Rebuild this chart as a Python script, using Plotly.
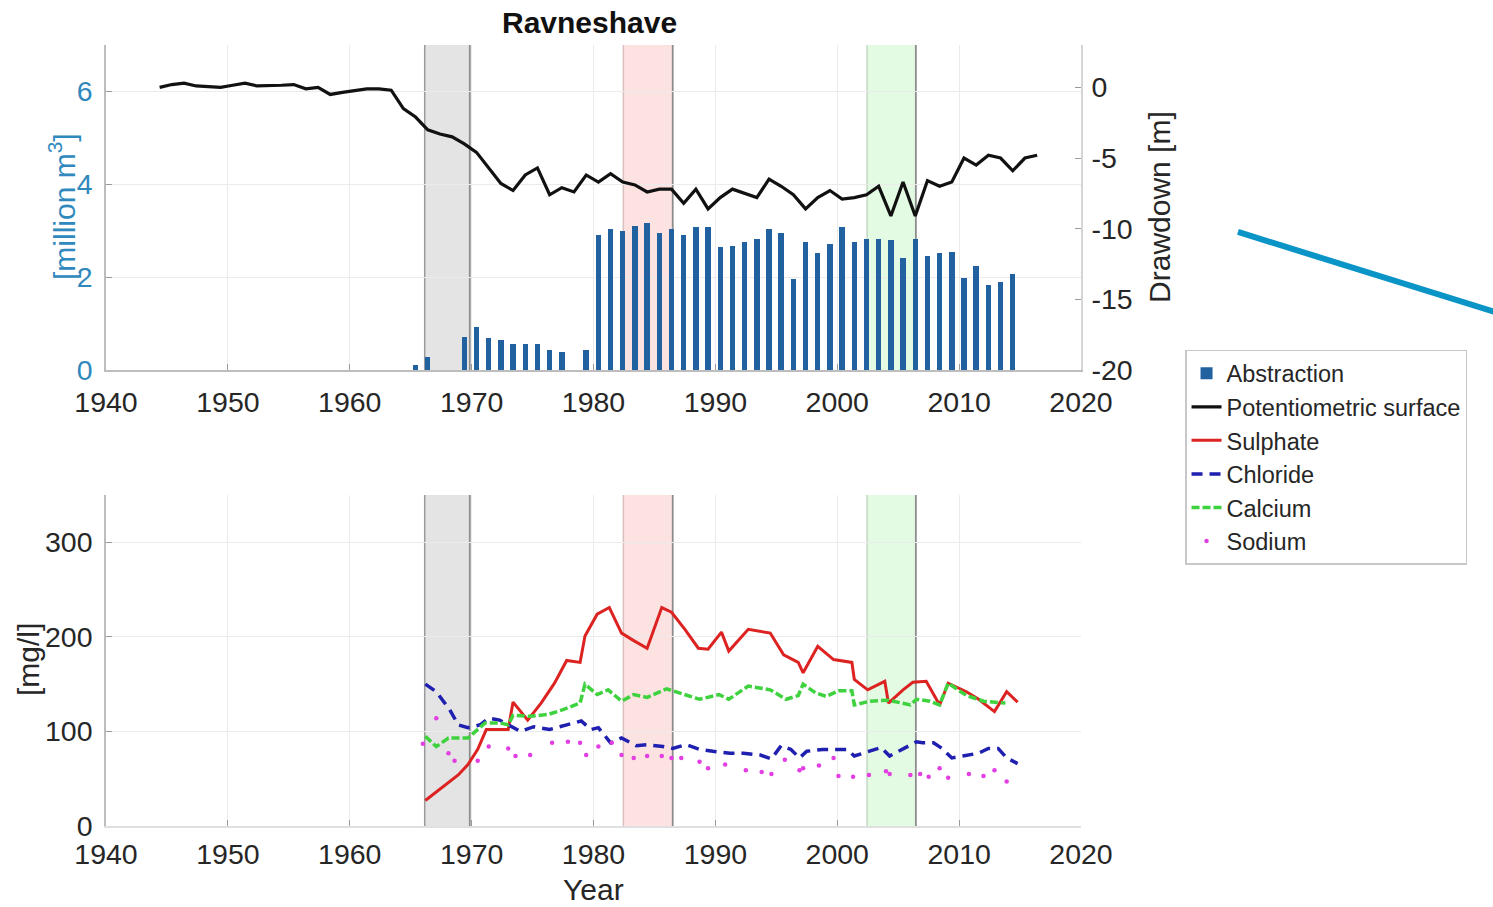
import plotly.graph_objects as go

# ---------------- data ----------------
pot_years = list(range(1944, 2017))
pot_drawdown = [0.0, 0.2, 0.3, 0.1, 0.05, 0.0, 0.15, 0.3, 0.1, 0.1, 0.15, 0.2, -0.1, 0.0,
                -0.5, -0.35, -0.25, -0.1, -0.1, -0.2, -1.5, -2.1, -3.0, -3.3, -3.5, -4.0,
                -4.6, -5.7, -6.8, -7.3, -6.2, -5.7, -7.6, -7.1, -7.4, -6.2, -6.7, -6.1,
                -6.7, -6.9, -7.4, -7.2, -7.2, -8.2, -7.2, -8.6, -7.8, -7.2, -7.5, -7.8,
                -6.5, -7.0, -7.6, -8.6, -7.8, -7.3, -7.9, -7.8, -7.6, -7.0, -9.1, -6.7,
                -9.1, -6.6, -7.0, -6.7, -5.0, -5.5, -4.8, -5.0, -5.9, -5.0, -4.8]

abs_years = [1965, 1966, 1969, 1970, 1971, 1972, 1973, 1974, 1975, 1976, 1977, 1979,
             1980, 1981, 1982, 1983, 1984, 1985, 1986, 1987, 1988, 1989, 1990, 1991,
             1992, 1993, 1994, 1995, 1996, 1997, 1998, 1999, 2000, 2001, 2002, 2003,
             2004, 2005, 2006, 2007, 2008, 2009, 2010, 2011, 2012, 2013, 2014]
abs_values = [0.10, 0.29, 0.71, 0.92, 0.69, 0.64, 0.57, 0.55, 0.57, 0.42, 0.38, 0.42,
              2.90, 3.03, 3.00, 3.10, 3.16, 2.94, 3.03, 2.90, 3.08, 3.08, 2.64, 2.67,
              2.76, 2.83, 3.03, 2.94, 1.95, 2.75, 2.53, 2.72, 3.07, 2.76, 2.83, 2.83,
              2.80, 2.42, 2.82, 2.46, 2.51, 2.54, 1.99, 2.24, 1.84, 1.90, 2.06]

so4_t = [1966.2, 1967.1, 1967.9, 1968.9, 1969.7, 1970.5, 1971.2, 1972.2, 1973.0, 1973.4,
         1974.6, 1975.7, 1976.8, 1977.8, 1978.9, 1979.3, 1980.3, 1981.3, 1982.3, 1983.3,
         1984.4, 1985.6, 1986.4, 1987.5, 1988.6, 1989.4, 1990.5, 1991.1, 1992.7, 1994.5,
         1995.6, 1996.8, 1997.2, 1998.4, 1999.7, 2001.2, 2001.4, 2002.5, 2003.9, 2004.2,
         2005.4, 2006.2, 2007.3, 2008.4, 2009.1, 2010.6, 2011.6, 2012.9, 2013.9, 2014.8]
so4_v = [27, 36, 43, 54, 65, 81, 102, 102, 102, 131,
         112, 130, 151, 175, 173, 201, 224, 231, 204, 196,
         188, 231, 226, 208, 188, 187, 205, 185, 208, 204,
         181, 173, 162, 190, 176, 173, 155, 144, 153, 130,
         144, 152, 153, 128, 151, 142, 134, 121, 142, 131]

cl_t = [1966.2, 1967.1, 1968.2, 1968.9, 1969.7, 1970.7, 1971.4, 1972.3, 1973.0, 1974.0,
        1975.1, 1976.4, 1977.8, 1979.0, 1979.8, 1980.4, 1981.4, 1982.3, 1983.5, 1984.4,
        1985.7, 1986.5, 1987.6, 1988.7, 1989.8, 1991.2, 1992.3, 1993.7, 1994.6, 1995.4,
        1996.2, 1996.9, 1997.5, 1998.8, 1999.9, 2000.8, 2001.4, 2002.7, 2003.6, 2004.3,
        2005.4, 2006.5, 2007.0, 2007.9, 2008.6, 2009.4, 2010.3, 2011.6, 2012.4, 2013.2,
        2013.9, 2014.8]
cl_v = [150, 142, 123, 107, 104, 107, 114, 112, 107, 100,
        105, 102, 107, 111, 102, 104, 88, 93, 85, 86,
        84, 82, 86, 81, 79, 77, 77, 75, 71, 85,
        81, 72, 79, 81, 81, 81, 74, 79, 83, 74,
        82, 89, 88, 88, 82, 72, 74, 77, 82, 82,
        72, 66]

ca_t = [1966.2, 1967.1, 1968.1, 1969.7, 1971.1, 1972.3, 1973.0, 1973.4, 1974.8, 1976.3,
        1977.5, 1978.9, 1979.3, 1980.3, 1981.2, 1982.3, 1983.3, 1984.4, 1986.0, 1987.4,
        1988.7, 1990.3, 1991.1, 1992.7, 1994.5, 1995.8, 1996.8, 1997.2, 1998.2, 1999.1,
        2000.1, 2001.2, 2001.4, 2002.7, 2004.2, 2006.0, 2006.5, 2007.6, 2008.4, 2009.1,
        2010.6, 2012.0, 2013.8]
ca_v = [95, 84, 93, 93, 109, 109, 107, 117, 116, 118,
        123, 130, 150, 139, 144, 132, 139, 136, 145, 139,
        134, 139, 134, 148, 144, 134, 138, 150, 141, 137,
        143, 143, 128, 132, 133, 128, 134, 132, 128, 151,
        138, 132, 130]

na_t = [1966.0, 1967.1, 1968.1, 1968.6, 1970.5, 1971.4, 1973.0, 1973.6, 1974.8, 1976.6,
        1977.9, 1978.9, 1979.4, 1980.4, 1981.5, 1982.3, 1983.3, 1984.4, 1985.6, 1986.4,
        1987.2, 1988.7, 1989.4, 1990.8, 1992.5, 1993.8, 1994.6, 1995.7, 1996.9, 1997.2,
        1998.5, 1999.7, 2000.1, 2001.3, 2002.6, 2004.0, 2004.3, 2006.0, 2006.8, 2007.5,
        2008.4, 2009.1, 2010.8, 2012.0, 2012.9, 2013.9]
na_v = [87, 114, 77, 69, 69, 84, 82, 74, 75, 88,
        89, 88, 75, 84, 88, 75, 72, 74, 74, 72,
        72, 68, 61, 65, 59, 57, 55, 70, 59, 61,
        64, 72, 53, 52, 54, 58, 55, 54, 55, 52,
        61, 51, 55, 53, 59, 47]

# shaded periods (start, end, fill colour, left edge colour)
periods = [(1966.15, 1969.85, "#e4e4e4", "#9a9a9a"),
           (1982.45, 1986.5, "#fde2e2", "#d8c0c0"),
           (2002.45, 2006.45, "#e2fbe2", "#c0d8c0")]

x_ticks = list(range(1940, 2021, 10))
dd_ticks = [0, -5, -10, -15, -20]
dd_ticktext = ["0", "-5", "-10", "-15", "-20"]
MIDYEAR = 0.4

# ---------------- style ----------------
TXT = "#262626"
BLUE_TXT = "#2f89bd"
FONT = "Liberation Sans, Arial, sans-serif"
TICK_FS = 28.5
LAB_FS = 30

fig = go.Figure()

fig.add_trace(go.Bar(x=[y + MIDYEAR for y in abs_years], y=abs_values, name="Abstraction",
                     marker=dict(color="#2161a0", line=dict(width=0)), width=0.45,
                     xaxis="x", yaxis="y"))
fig.add_trace(go.Scatter(x=[y + MIDYEAR for y in pot_years], y=pot_drawdown, mode="lines",
                         name="Potentiometric surface", line=dict(color="#111111", width=3.2),
                         xaxis="x", yaxis="y2"))
fig.add_trace(go.Scatter(x=so4_t, y=so4_v, mode="lines", name="Sulphate",
                         line=dict(color="#dd2222", width=3), xaxis="x2", yaxis="y3"))
fig.add_trace(go.Scatter(x=cl_t, y=cl_v, mode="lines", name="Chloride",
                         line=dict(color="#1f1fb0", width=3.5, dash="11px,7px"),
                         xaxis="x2", yaxis="y3"))
fig.add_trace(go.Scatter(x=ca_t, y=ca_v, mode="lines", name="Calcium",
                         line=dict(color="#3fd23f", width=3.5, dash="8px,3px"),
                         xaxis="x2", yaxis="y3"))
fig.add_trace(go.Scatter(x=na_t, y=na_v, mode="markers", name="Sodium",
                         marker=dict(color="#e23ee2", size=4.5), xaxis="x2", yaxis="y3"))

shapes = []
for (xa, ya) in [("x", "y domain"), ("x2", "y3 domain")]:
    for (s, e, col, edge) in periods:
        shapes.append(dict(type="rect", xref=xa, yref=ya, x0=s, x1=e, y0=0, y1=1,
                           fillcolor=col, line=dict(width=0), layer="below"))
        shapes.append(dict(type="line", xref=xa, yref=ya, x0=s, x1=s, y0=0, y1=1,
                           line=dict(color=edge, width=1.5), layer="below"))
        shapes.append(dict(type="line", xref=xa, yref=ya, x0=e, x1=e, y0=0, y1=1,
                           line=dict(color="#8c8c8c", width=1.8), layer="below"))
# decorative pointer line at the right
shapes.append(dict(type="line", xref="paper", yref="paper", x0=1.161, y0=0.7606,
                   x1=1.4246, y1=0.6581, line=dict(color="#0b95c6", width=6)))

axis_common = dict(showgrid=True, gridcolor="#ebebeb", gridwidth=1.2, showline=True,
                   linecolor="#bdbdbd", linewidth=1.5, ticks="inside", ticklen=6,
                   tickcolor="#9a9a9a", zeroline=False,
                   tickfont=dict(size=TICK_FS, color=TXT, family=FONT))


def ann(text, x, y, size=LAB_FS, color=TXT, angle=0):
    return dict(text=text, xref="paper", yref="paper", x=x, y=y, xanchor="center",
                yanchor="middle", textangle=angle, showarrow=False,
                font=dict(size=size, color=color, family=FONT))


fig.update_layout(
    width=1493, height=907,
    margin=dict(l=106, r=412, t=45, b=81),
    paper_bgcolor="white", plot_bgcolor="white",
    font=dict(family=FONT, color=TXT),
    bargap=0,
    showlegend=True,
    legend=dict(x=1.1067, y=0.6095, xanchor="left", yanchor="top",
                bgcolor="white", bordercolor="#c8c8c8", borderwidth=1.5,
                font=dict(size=23.5, color=TXT, family=FONT), tracegroupgap=0,
                itemwidth=30),
    xaxis=dict(domain=[0, 1], anchor="y", range=[1940, 2020], tickvals=x_ticks,
               ticklabelstandoff=6, **axis_common),
    yaxis=dict(domain=[0.5839, 1], anchor="x", range=[0, 7], tickvals=[0, 2, 4, 6],
               ticklabelstandoff=6,
               **{k: v for k, v in axis_common.items() if k != "tickfont"},
               tickfont=dict(size=TICK_FS, color=BLUE_TXT, family=FONT)),
    yaxis2=dict(overlaying="y", side="right", anchor="x", range=[-20, 3],
                tickvals=dd_ticks, ticktext=dd_ticktext, showgrid=False, showline=True,
                linecolor="#d6d6d6", linewidth=1.5, ticks="inside", ticklen=6,
                tickcolor="#9a9a9a", zeroline=False, ticklabelstandoff=3,
                tickfont=dict(size=TICK_FS, color=TXT, family=FONT)),
    xaxis2=dict(domain=[0, 1], anchor="y3", range=[1940, 2020], tickvals=x_ticks,
                ticklabelstandoff=2,
                **{k: v for k, v in axis_common.items() if k not in ("linecolor",)},
                linecolor="#e0e0e0"),
    yaxis3=dict(domain=[0, 0.4238], anchor="x2", range=[0, 350], tickvals=[0, 100, 200, 300],
                ticklabelstandoff=6, **axis_common),
    shapes=shapes,
    annotations=[
        ann("<b>Ravneshave</b>", 0.4964, 1.0294, size=30, color="#111111"),
        ann("[million m<sup>3</sup>]", -0.0451, 0.7926, color=BLUE_TXT, angle=-90),
        ann("Drawdown [m]", 1.081, 0.7926, angle=-90),
        ann("[mg/l]", -0.080, 0.2125, angle=-90),
        ann("Year", 0.5005, -0.0819),
    ],
)

fig.write_html("out.html")
